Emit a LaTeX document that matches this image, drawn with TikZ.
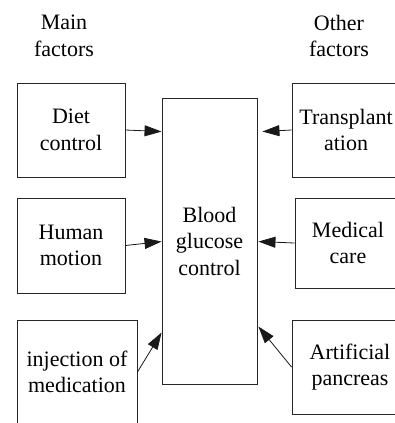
\documentclass[tikz,border=0pt]{standalone}
\usepackage{fontspec}
\setmainfont{Liberation Serif}
\usetikzlibrary{arrows.meta,calc}
\begin{document}
\begin{tikzpicture}[x=1pt,y=-1pt,
  box/.style={draw=black!85,line width=0.9pt,align=center,inner sep=0pt,
    font=\fontsize{22}{26.5}\selectfont},
  hdr/.style={align=center,inner sep=0pt,font=\fontsize{22}{26.5}\selectfont},
  arr/.style={draw=black!90,line width=0.8pt,-{Triangle[length=17pt,width=11pt]}}]
\useasboundingbox (0,0) rectangle (395,423);
\clip (0,0) rectangle (395,423);
\node[hdr] (h1) at (64,36) {Main\\factors};
\node[hdr] (h2) at (339,36) {Other\\factors};
\node[box,minimum width=108pt,minimum height=94pt] (diet) at (71,130) {Diet\\control};
\node[box,minimum width=108pt,minimum height=95pt] (human) at (71,245.5) {Human\\motion};
\node[box,minimum width=120pt,minimum height=104pt] (inj) at (77,372) {injection of\\medication};
\node[box,minimum width=95pt,minimum height=286pt] (center) at (209.5,241) {Blood\\glucose\\control};
\node[box,minimum width=108pt,minimum height=94pt] (trans) at (346,130) {Transplant\\ation};
\node[box,minimum width=106pt,minimum height=90pt] (med) at (348,243) {Medical\\care};
\node[box,minimum width=116pt,minimum height=94pt] (art) at (350,367) {Artificial\\pancreas};
\coordinate (t1) at ($(center.north west)+(0,34)$);
\coordinate (t2) at ($(center.north west)+(0,144)$);
\coordinate (t3) at ($(center.north west)+(0,235)$);
\coordinate (t4) at ($(center.north east)+(5,34)$);
\coordinate (t5) at ($(center.north east)+(1,144)$);
\coordinate (t6) at ($(center.north east)+(1,229)$);
\draw[arr] (diet.east) -- (t1);
\draw[arr] (human.east) -- (t2);
\draw[arr] (inj.east) -- (t3);
\draw[arr] (trans.west) -- (t4);
\draw[arr] (med.west) -- (t5);
\draw[arr] (art.west) -- (t6);
\end{tikzpicture}
\end{document}
